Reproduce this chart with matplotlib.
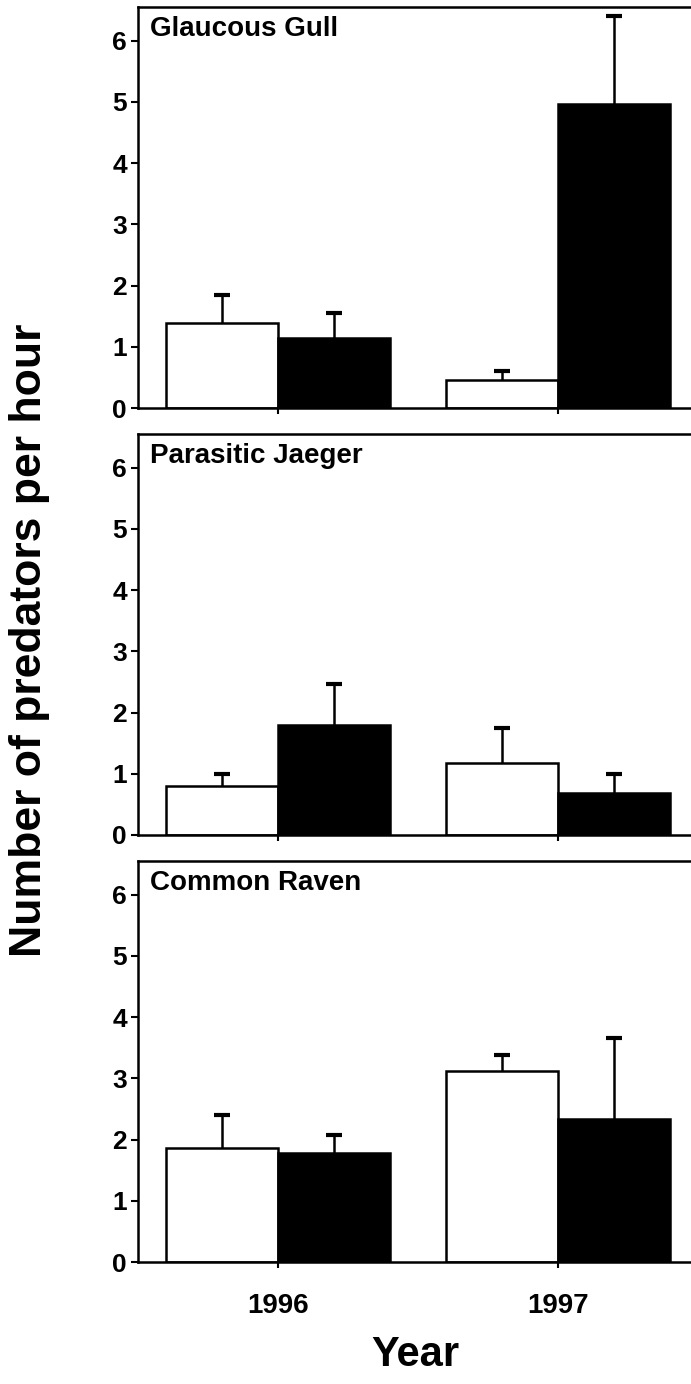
import matplotlib
matplotlib.use('Agg')
import matplotlib.pyplot as plt
import numpy as np

plt.rcParams['font.family'] = ['Liberation Sans', 'DejaVu Sans']
plt.rcParams['font.weight'] = 'bold'

YEARS = ['1996', '1997']
SPECIES = ['Glaucous Gull', 'Parasitic Jaeger', 'Common Raven']

# open bars (white) and filled bars (black), mean and SE per year
white_means = [[1.39, 0.46], [0.80, 1.18], [1.87, 3.12]]
white_se = [[0.46, 0.15], [0.20, 0.57], [0.53, 0.26]]
black_means = [[1.15, 4.96], [1.79, 0.69], [1.78, 2.34]]
black_se = [[0.40, 1.44], [0.68, 0.31], [0.29, 1.32]]

W, H = 691, 1384
fig = plt.figure(figsize=(W / 100, H / 100), dpi=100)

left = 138 / W
width = 560 / W
bottoms_px = [408, 835, 1262]
height = 401 / H

x = np.arange(len(YEARS))
bw = 0.4


def upper_errorbar(ax, xs, means, se):
    zeros = [0] * len(means)
    eb = ax.errorbar(xs, means, yerr=[zeros, se], fmt='none', ecolor='black',
                     elinewidth=1.8, capsize=6, capthick=3, zorder=3)
    # hide the lower caps sitting on the bar tops
    eb[1][0].set_visible(False)


for i, name in enumerate(SPECIES):
    ax = fig.add_axes([left, 1 - bottoms_px[i] / H, width, height])
    ax.bar(x - bw / 2, white_means[i], bw, color='white', edgecolor='black',
           linewidth=1.8, zorder=2)
    ax.bar(x + bw / 2, black_means[i], bw, color='black', edgecolor='black',
           linewidth=1.8, zorder=2)
    upper_errorbar(ax, x - bw / 2, white_means[i], white_se[i])
    upper_errorbar(ax, x + bw / 2, black_means[i], black_se[i])

    ax.set_xlim(-0.5, 1.5)
    ax.set_ylim(0, 6.55)
    ax.set_yticks(range(0, 7))
    ax.set_xticks(x)
    for s in ax.spines.values():
        s.set_linewidth(1.8)
    ax.tick_params(axis='y', direction='out', length=5, width=1.5,
                   labelsize=19, pad=3)
    ax.tick_params(axis='x', direction='out', length=4, width=1.5,
                   labelsize=20, pad=18)
    if i < 2:
        ax.set_xticklabels([])
    else:
        ax.set_xticklabels(YEARS)
    for lab in ax.get_yticklabels() + ax.get_xticklabels():
        lab.set_fontweight('bold')
    ax.text(0.022, 0.978, name, transform=ax.transAxes, ha='left', va='top',
            fontsize=20, fontweight='bold')

fig.text(30 / W, 1 - 640 / H, 'Number of predators per hour', rotation=90,
         ha='center', va='center', fontsize=32, fontweight='bold')
fig.text(415 / W, 1 - 1355 / H, 'Year', ha='center', va='center',
         fontsize=30, fontweight='bold')

fig.savefig('out.png', dpi=100)
